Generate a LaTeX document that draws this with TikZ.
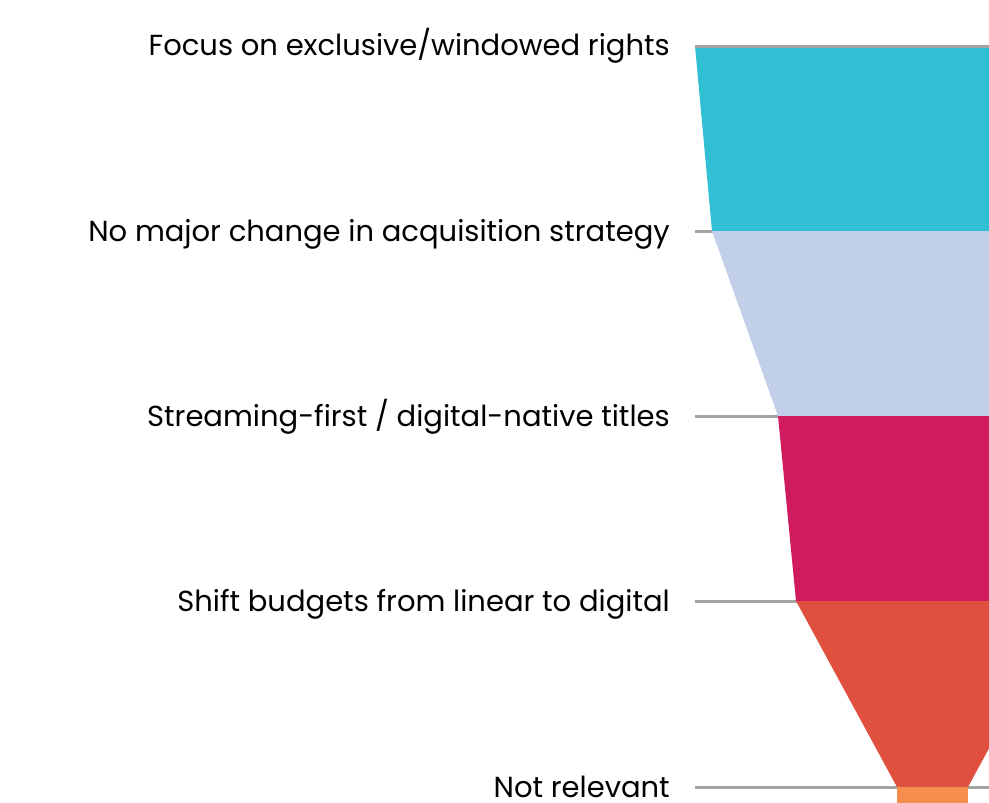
\documentclass[tikz,border=0pt]{standalone}
\usepackage{fontspec}
\setmainfont{Poppins}
\usetikzlibrary{positioning}
\definecolor{bandTeal}{HTML}{31BFD3}
\definecolor{bandBlue}{HTML}{C1CFE9}
\definecolor{bandMagenta}{HTML}{D11B5F}
\definecolor{bandRed}{HTML}{E0503F}
\definecolor{bandOrange}{HTML}{F68D4F}
\definecolor{ruleGrey}{HTML}{A3A3A3}
\tikzset{
  stage/.style={anchor=base east, inner sep=0pt,
    font=\fontsize{29}{34}\selectfont}, % the labels on the left
  guide/.style={draw=ruleGrey, line width=3pt}, % grey lines
}

\begin{document}
\begin{tikzpicture}[x=1pt, y=-1pt]
    \clip (0,0) rectangle (989,803);
    \fill[white] (0,0) rectangle (989,803);

    % left and right edges of the funnel
    \coordinate (l0) at (695,46);  \coordinate (r0) at (1170,46);
    \coordinate (l1) at (712,231); \coordinate (r1) at (1153,231);
    \coordinate (l2) at (778,416); \coordinate (r2) at (1087,416);
    \coordinate (l3) at (796,601); \coordinate (r3) at (1069,601);
    \coordinate (l4) at (897,787); \coordinate (r4) at (968,787);
    \coordinate (l5) at (897,840); \coordinate (r5) at (968,840);

    % labels, set on a baseline a little below each guide line
    \node[stage] (focus) at (670,56) {Focus on exclusive/windowed rights};
    \node[stage] (nochange) at (670,241) {No major change in acquisition strategy};
    \node[stage] (streaming) at (670,426) {Streaming-first / digital-native titles};
    \node[stage] (shift) at (670,611) {Shift budgets from linear to digital};
    \node[stage] (notrel) at (670,797) {Not relevant};

    % guide lines, drawn under the funnel
    \foreach \y [count=\i] in {46,231,416,601,787} {
      \coordinate (g\i) at (695,\y);
      \coordinate (h\i) at (1000,\y);
      \draw[guide] (g\i) -- (h\i);
    }

    \fill[bandTeal] (l0) -- (r0) -- (r1) -- (l1) -- cycle;
    \fill[bandBlue] (l1) -- (r1) -- (r2) -- (l2) -- cycle;
    \fill[bandMagenta] (l2) -- (r2) -- (r3) -- (l3) -- cycle;
    \fill[bandRed] (l3) -- (r3) -- (r4) -- (l4) -- cycle;
    \fill[bandOrange] (l4) -- (r4) -- (r5) -- (l5) -- cycle;
    \draw[guide] (g1) -- (h1);
  \end{tikzpicture}
\end{document}
